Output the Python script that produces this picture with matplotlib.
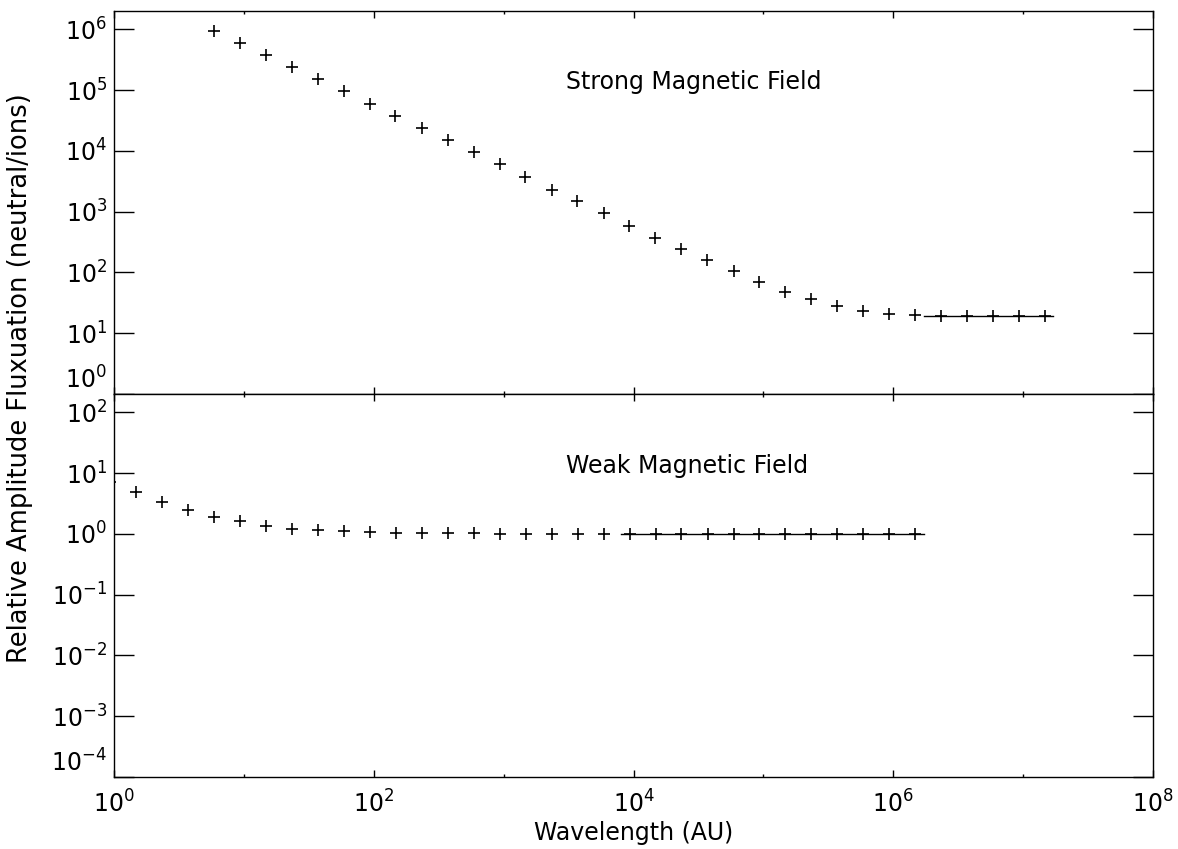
"""Относительная амплитуда флуктуаций в сильном и слабом магнитном поле."""
import math

import matplotlib

matplotlib.use("Agg")
import matplotlib.pyplot as plt
from matplotlib import ticker

# Размер картинки
FIG_SIZE = (11.78, 8.49)
DPI = 100
FONT_SIZE = 17

# Сильное поле
WAVELENGTH_STRONG = [
    5.9, 9.3, 14.7, 23.4, 37, 59, 93, 147, 234, 370, 590, 930, 1470, 2340,
    3700, 5900, 9300, 14700, 23400, 37000, 59000, 93000, 147000, 234000,
    370000, 590000, 930000, 1.47e6, 2.34e6, 3.7e6, 5.9e6, 9.3e6, 1.47e7,
]
AMP_STRONG = [
    9.5e5, 6.0e5, 3.8e5, 2.4e5, 1.5e5, 9.5e4, 6.0e4, 3.7e4, 2.4e4, 1.5e4,
    9.4e3, 6.0e3, 3.7e3, 2.3e3, 1.5e3, 955, 590, 365, 240, 158, 104, 70,
    48, 36, 28, 23.5, 21, 19.8, 19.5, 19.5, 19.5, 19.5, 19.5,
]
STRONG_LINE_X = [1.73e6, 1.7e7]
STRONG_LINE_Y = [19.5, 19.5]

# Слабое поле
WAVELENGTH_WEAK = [
    0.933, 1.48, 2.34, 3.72, 5.89, 9.33, 14.8, 23.4, 37.2, 58.9, 93.3, 148,
    234, 372, 589, 933, 1480, 2340, 3720, 5890, 9330, 14800, 23400, 37200,
    58900, 93300, 148000, 234000, 372000, 589000, 933000, 1.48e6,
]
AMP_WEAK = [
    7.0, 4.8, 3.4, 2.5, 1.9, 1.6, 1.37, 1.21, 1.15, 1.11, 1.07, 1.04, 1.03,
    1.02, 1.015, 1.01, 1.01, 1.005, 1.005, 1.0, 1.0, 1.0, 1.0, 1.0, 1.0,
    1.0, 1.0, 1.0, 1.0, 1.0, 1.0, 1.0,
]
WEAK_LINE_X = [8.0e3, 1.73e6]
WEAK_LINE_Y = [1.0, 1.0]

X_TICKS = [1e0, 1e2, 1e4, 1e6, 1e8]
X_MINOR = [1e1, 1e3, 1e5, 1e7]
STRONG_Y_TICKS = [1e0, 1e1, 1e2, 1e3, 1e4, 1e5, 1e6]
WEAK_Y_TICKS = [1e-4, 1e-3, 1e-2, 1e-1, 1e0, 1e1, 1e2]


def pow_label(value):
    exp = int(round(math.log10(value)))
    return rf"$\mathregular{{10^{{{exp}}}}}$"


def setup_axis(ax, y_ticks, ylim):
    """Оформление осей в духе IDL."""
    ax.set_xscale("log")
    ax.set_yscale("log")
    ax.set_xlim(1, 1e8)
    ax.set_ylim(*ylim)
    ax.set_xticks(X_TICKS)
    ax.xaxis.set_minor_locator(ticker.FixedLocator(X_MINOR))
    ax.xaxis.set_minor_formatter(ticker.NullFormatter())
    ax.set_yticks(y_ticks, [pow_label(v) for v in y_ticks])
    ax.yaxis.set_minor_locator(ticker.NullLocator())
    ax.tick_params(axis="x", which="major", direction="in", length=5,
                   top=True, bottom=True, width=1)
    ax.tick_params(axis="x", which="minor", direction="in", length=2.5,
                   top=True, bottom=True, width=1)
    ax.tick_params(axis="y", direction="in", length=14.5, left=True,
                   right=True, width=1, labelsize=FONT_SIZE, pad=5)
    # нижняя подпись сдвинута вверх, чтобы не налезать на соседнюю панель
    ax.get_yticklabels()[0].set_va("bottom")
    for spine in ax.spines.values():
        spine.set_linewidth(1)


def draw():
    plt.rcParams["font.family"] = ["DejaVu Sans"]
    plt.rcParams["font.size"] = FONT_SIZE
    fig = plt.figure(figsize=FIG_SIZE, dpi=DPI)
    left, width = 114 / 1178, (1153 - 114) / 1178
    ax_top = fig.add_axes([left, 1 - 394 / 849, width, 383 / 849])
    ax_bot = fig.add_axes([left, 1 - 777 / 849, width, 383 / 849],
                          sharex=ax_top)

    marker = dict(ls="none", marker="+", ms=8, mew=1.2, color="black")
    ax_top.plot(WAVELENGTH_STRONG, AMP_STRONG, **marker)
    ax_top.plot(STRONG_LINE_X, STRONG_LINE_Y, color="black", lw=1)
    ax_bot.plot(WAVELENGTH_WEAK, AMP_WEAK, **marker)
    ax_bot.plot(WEAK_LINE_X, WEAK_LINE_Y, color="black", lw=1)

    setup_axis(ax_top, STRONG_Y_TICKS, (1, 2e6))
    setup_axis(ax_bot, WEAK_Y_TICKS, (1e-4, 2e2))
    ax_top.tick_params(axis="x", labelbottom=False)
    ax_bot.set_xticks(X_TICKS, [pow_label(v) for v in X_TICKS])
    ax_bot.tick_params(axis="x", labelsize=FONT_SIZE, pad=10)

    ax_top.text(3.0e3, 1.35e5, "Strong Magnetic Field", fontsize=FONT_SIZE,
                va="center", ha="left")
    ax_bot.text(3.0e3, 13, "Weak Magnetic Field", fontsize=FONT_SIZE,
                va="center", ha="left")

    ax_bot.set_xlabel("Wavelength (AU)", fontsize=FONT_SIZE, labelpad=2)
    fig.text(0.017, 1 - 378 / 849, "Relative Amplitude Fluxuation (neutral/ions)",
             rotation=90, ha="center", va="center", fontsize=18.5)

    fig.savefig("out.png", dpi=DPI)


if __name__ == "__main__":
    draw()
